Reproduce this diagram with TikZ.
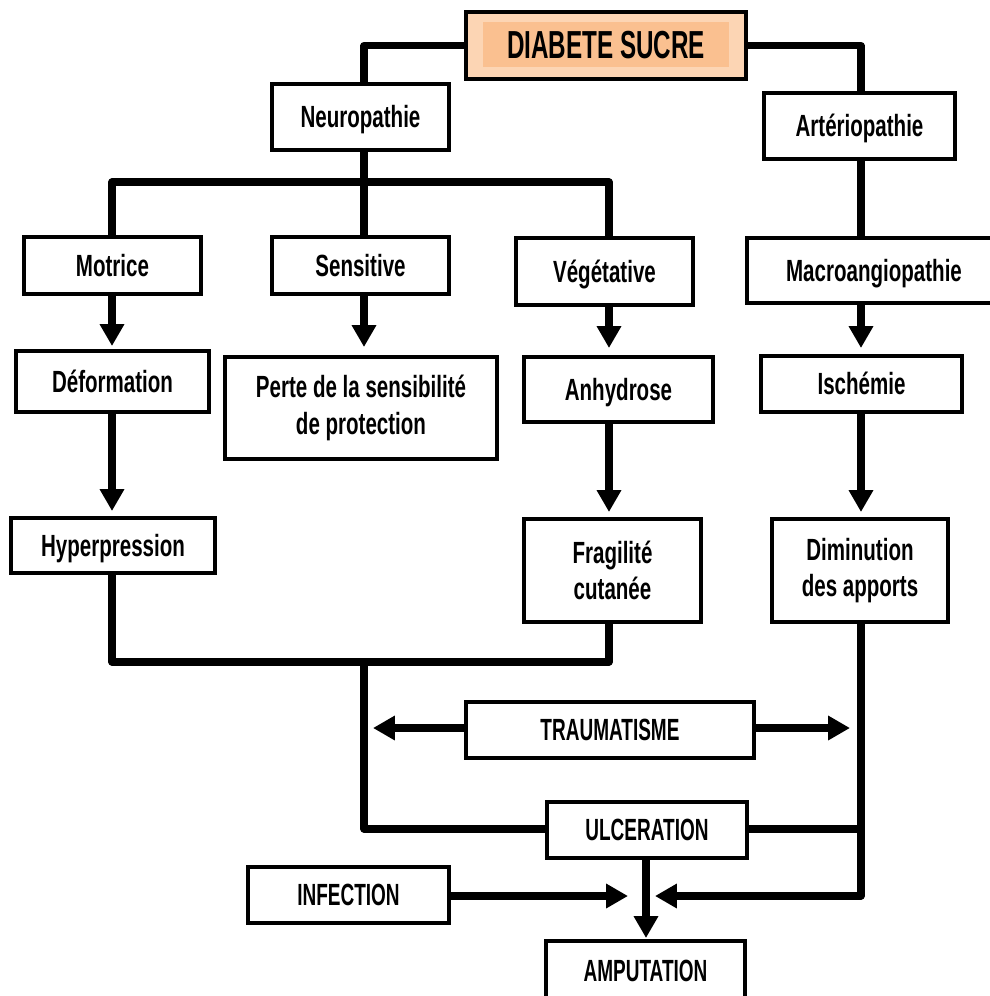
\documentclass[tikz,border=0pt]{standalone}
\usepackage{fontspec}
\usetikzlibrary{arrows.meta}
\newfontfamily\lblfont[FakeStretch=0.67]{Liberation Sans}
\newfontfamily\capfont[FakeStretch=0.62]{Liberation Sans}
\definecolor{peachL}{HTML}{FCD5B4}
\definecolor{peachD}{HTML}{FAC090}
\begin{document}
\begin{tikzpicture}[x=0.025cm,y=-0.025cm,
  box/.style={draw=black, line width=2.4pt, fill=white, inner sep=0pt, outer sep=0pt, align=center,
    font=\lblfont\bfseries\fontsize{21.8pt}{26pt}\selectfont},
  one/.style={text height=15.6pt, text depth=0pt},
  capbox/.style={box, one, font=\capfont\bfseries\fontsize{21.8pt}{26pt}\selectfont},
  sz/.style 2 args={minimum width={#1*0.025cm}, minimum height={#2*0.025cm}},
  conn/.style={line width=5pt, line join=round},
  arr/.style={conn, -{Triangle[length=15.5pt,width=16.5pt]}},
  gp/.style={shorten >={#1*0.025cm}},
]
\useasboundingbox (0,0) rectangle (990,996);
\clip (0,0) rectangle (990,996);

% column / row coordinates
\coordinate (k1) at (112,0);
\coordinate (k2) at (364,0);
\coordinate (k3) at (609,0);
\coordinate (k4) at (861,0);
\coordinate (k5) at (646,0);
\coordinate (bar1) at (0,182);
\coordinate (bar2) at (0,662);
\coordinate (trY) at (0,728);
\coordinate (ulY) at (0,829);
\coordinate (botY) at (0,896);
\coordinate (tl) at (373,728);
\coordinate (tr) at (850,728);
\coordinate (la) at (628,896);
\coordinate (ra) at (655,896);

% title
\node[box, sz={280}{67}, fill=peachL] (dia) at (606,45.5) {};
\node[inner sep=0pt, outer sep=0pt, fill=peachD, sz={246}{45}, text height=19.9pt, text depth=0pt,
  font=\capfont\bfseries\fontsize{27.8pt}{30pt}\selectfont] (diain) at (606,44.5) {DIABETE SUCRE};

% boxes
\node[box, one, sz={177}{66}] (neu) at (360.5,117) {Neuropathie};
\node[box, one, sz={191}{66}] (art) at (859.5,126) {Artériopathie};
\node[box, one, sz={177}{57}] (mot) at (112.5,265.5) {Motrice};
\node[box, one, sz={177}{57}] (sen) at (360.5,265.5) {Sensitive};
\node[box, one, sz={177}{67}] (veg) at (604.5,271.5) {Végétative};
\node[box, one, sz={254}{65}] (mac) at (874,270.5) {Macroangiopathie};
\node[box, one, sz={193}{61}] (def) at (112.5,381.5) {Déformation};
\node[box, sz={272}{102}] (per) at (361,408) {Perte de la sensibilité\\de protection};
\node[box, one, sz={189}{65}] (anh) at (618.5,389.5) {Anhydrose};
\node[box, one, sz={201}{56}] (isc) at (861.5,384) {Ischémie};
\node[box, one, sz={204}{55}] (hyp) at (113,545.5) {Hyperpression};
\node[box, sz={177}{103}] (fra) at (612.5,570.5) {Fragilité\\cutanée};
\node[box, sz={176}{103}] (dim) at (860,570.5) {Diminution\\des apports};
\node[capbox, sz={288}{56}] (tra) at (610,730) {TRAUMATISME};
\node[capbox, sz={200}{56}] (ulc) at (647,830) {ULCERATION};
\node[capbox, sz={201}{56}] (inf) at (348.5,895) {INFECTION};
\node[capbox, sz={199}{60}] (amp) at (645.5,971) {AMPUTATION};

% connectors
\draw[conn] (dia.west) -| (neu.north -| k2);
\draw[conn] (dia.east) -| (art.north -| k4);
\draw[conn] (neu.south -| k2) -- (k2 |- bar1);
\draw[conn] (mot.north -| k1) -- (k1 |- bar1) -- (k3 |- bar1) -- (veg.north -| k3);
\draw[conn] (k2 |- bar1) -- (sen.north -| k2);
\draw[conn] (art.south -| k4) -- (mac.north -| k4);

\draw[arr, gp=5] (mot.south -| k1) -- (def.north -| k1);
\draw[arr, gp=10] (sen.south -| k2) -- (per.north -| k2);
\draw[arr, gp=9] (veg.south -| k3) -- (anh.north -| k3);
\draw[arr, gp=8] (mac.south -| k4) -- (isc.north -| k4);
\draw[arr, gp=7] (def.south -| k1) -- (hyp.north -| k1);
\draw[arr, gp=7] (anh.south -| k3) -- (fra.north -| k3);
\draw[arr, gp=7] (isc.south -| k4) -- (dim.north -| k4);

\draw[conn] (hyp.south -| k1) -- (k1 |- bar2) -- (k3 |- bar2) -- (fra.south -| k3);
\draw[conn] (k2 |- bar2) -- (k2 |- ulY) -- (ulc.west |- ulY);
\draw[conn] (ulc.east |- ulY) -- (k4 |- ulY);
\draw[arr] (dim.south -| k4) -- (k4 |- botY) -- (ra);
\draw[arr] (inf.east |- botY) -- (la);
\draw[arr, gp=3] (ulc.south -| k5) -- (amp.north -| k5);
\draw[arr] (tra.west |- trY) -- (tl);
\draw[arr] (tra.east |- trY) -- (tr);
\end{tikzpicture}
\end{document}
